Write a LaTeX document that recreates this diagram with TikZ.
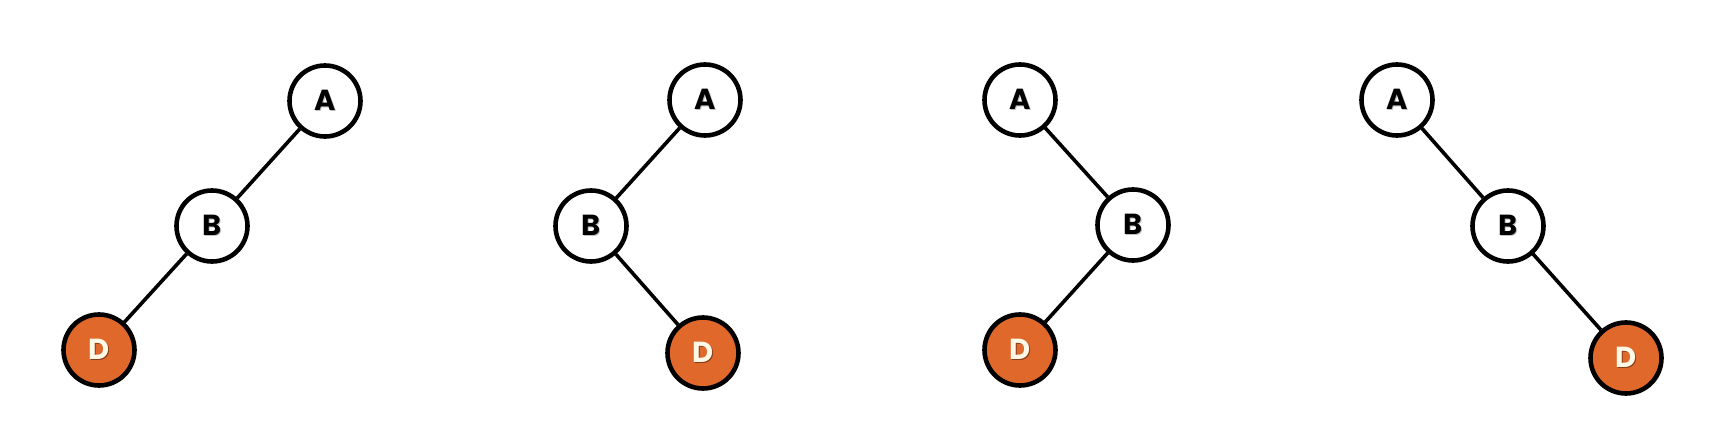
\documentclass[tikz,border=0pt]{standalone}
\usepackage{fontspec}
\setmainfont{Poppins}
\definecolor{dorange}{HTML}{E0682B}
\definecolor{dtext}{HTML}{FFF8E6}
\newcommand{\shtxt}[2]{\makebox[0pt][l]{\hspace{0.6pt}\raisebox{-0.7pt}{\textcolor{#2}{#1}}}#1}
\tikzset{
  treenode/.style={circle, draw=black, line width=2.3pt, minimum size=35.5pt, inner sep=0pt, fill=white,
    font=\bfseries\fontsize{14.5pt}{15pt}\selectfont},
  hinode/.style={treenode, fill=dorange, text=dtext},
  treeedge/.style={line width=1.8pt, draw=black}
}
\begin{document}
\begin{tikzpicture}[x=0.5pt, y=-0.5pt]
\useasboundingbox (0,0) rectangle (1720,444);
% tree 1
\node[treenode] (a1) at (325,101) {\shtxt{A}{black!25}};
\node[treenode] (b1) at (212,226) {\shtxt{B}{black!25}};
\node[hinode]   (d1) at (99,350) {\shtxt{D}{dorange!60!black}};
\draw[treeedge] (a1) -- (b1);
\draw[treeedge] (b1) -- (d1);
% tree 2
\node[treenode] (a2) at (705,100) {\shtxt{A}{black!25}};
\node[treenode] (b2) at (591,226) {\shtxt{B}{black!25}};
\node[hinode]   (d2) at (703,353) {\shtxt{D}{dorange!60!black}};
\draw[treeedge] (a2) -- (b2);
\draw[treeedge] (b2) -- (d2);
% tree 3
\node[treenode] (a3) at (1020,100) {\shtxt{A}{black!25}};
\node[treenode] (b3) at (1133,225) {\shtxt{B}{black!25}};
\node[hinode]   (d3) at (1020,350) {\shtxt{D}{dorange!60!black}};
\draw[treeedge] (a3) -- (b3);
\draw[treeedge] (b3) -- (d3);
% tree 4
\node[treenode] (a4) at (1397,100) {\shtxt{A}{black!25}};
\node[treenode] (b4) at (1508,226) {\shtxt{B}{black!25}};
\node[hinode]   (d4) at (1626,358) {\shtxt{D}{dorange!60!black}};
\draw[treeedge] (a4) -- (b4);
\draw[treeedge] (b4) -- (d4);
\end{tikzpicture}
\end{document}
